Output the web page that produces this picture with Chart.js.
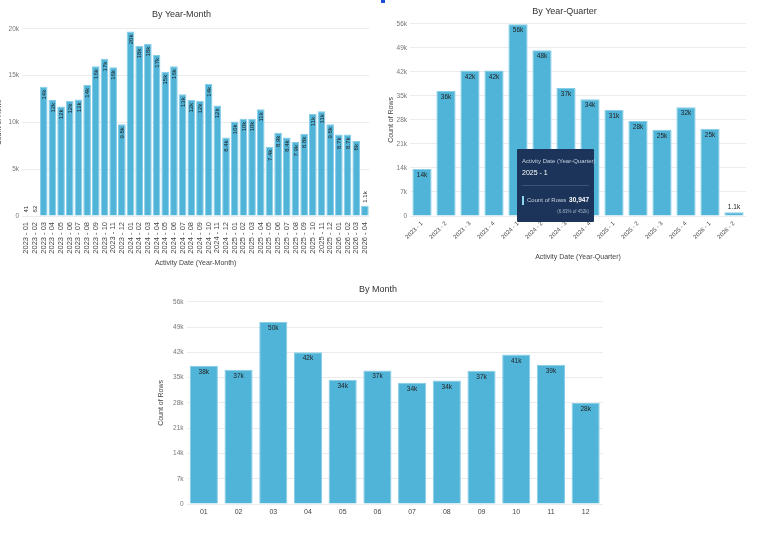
<!DOCTYPE html>
<html>
<head>
<meta charset="utf-8">
<script src="https://cdn.jsdelivr.net/npm/chart.js@4/dist/chart.umd.min.js"></script>
<style>
  html, body { margin:0; padding:0; background:#fff; width:764px; height:542px; overflow:hidden; font-family:"Liberation Sans", Arial, sans-serif; }
  .box { position:absolute; }
  #tip { position:absolute; left:517px; top:149px; width:77px; height:73px; background:#1c3459; border-radius:1px; color:#fff; font-family:"Liberation Sans", Arial, sans-serif; }
  #tip .t1 { position:absolute; left:5px; top:9px; font-size:6px; color:#c6d0de; white-space:nowrap; }
  #tip .t2 { position:absolute; left:5px; top:20px; font-size:7px; color:#ffffff; white-space:nowrap; }
  #tip .sep { position:absolute; left:5px; right:5px; top:36px; height:1px; background:#3a5378; }
  #tip .mk { position:absolute; left:5px; top:47px; width:1.5px; height:9px; background:#8ed6f0; }
  #tip .t3 { position:absolute; left:10px; top:48px; font-size:6px; color:#c6d0de; white-space:nowrap; }
  #tip .t4 { position:absolute; right:5px; top:47px; font-size:6.5px; color:#ffffff; font-weight:bold; white-space:nowrap; }
  #tip .t5 { position:absolute; right:5px; top:60px; font-size:4.5px; color:#9fb0c8; white-space:nowrap; }
  #blip { position:absolute; left:381px; top:0px; width:4px; height:3px; background:#1d4fd6; }
</style>
</head>
<body>
<div class="box" style="left:-9px; top:0px;"><canvas id="c1" width="389" height="271"></canvas></div>
<div class="box" style="left:383px; top:0px;"><canvas id="c2" width="381" height="265"></canvas></div>
<div class="box" style="left:153px; top:280px; width:450px; height:245px; overflow:hidden;"><canvas id="c3" width="450" height="256"></canvas></div>
<div id="blip"></div>
<div id="tip">
  <div class="t1">Activity Date (Year-Quarter)</div>
  <div class="t2">2025 - 1</div>
  <div class="sep"></div>
  <div class="mk"></div>
  <div class="t3">Count of Rows</div>
  <div class="t4">30,947</div>
  <div class="t5">(6.83% of 452k)</div>
</div>
<script>
// ---------- DATA ----------
const monthCategories = [
  "2023 - 01","2023 - 02","2023 - 03","2023 - 04","2023 - 05","2023 - 06","2023 - 07","2023 - 08","2023 - 09","2023 - 10","2023 - 11","2023 - 12",
  "2024 - 01","2024 - 02","2024 - 03","2024 - 04","2024 - 05","2024 - 06","2024 - 07","2024 - 08","2024 - 09","2024 - 10","2024 - 11","2024 - 12",
  "2025 - 01","2025 - 02","2025 - 03","2025 - 04","2025 - 05","2025 - 06","2025 - 07","2025 - 08","2025 - 09","2025 - 10","2025 - 11","2025 - 12",
  "2026 - 01","2026 - 02","2026 - 03","2026 - 04"
];
const monthValues = [
  41, 62, 13800, 12400, 11700, 12300, 12450, 14000, 16000, 16800, 15900, 9800,
  19700, 18200, 18400, 17200, 15400, 16000, 13000, 12400, 12300, 14100, 11800, 8400,
  10100, 10400, 10400, 11400, 7400, 8900, 8400, 7900, 8800, 10900, 11200, 9800,
  8700, 8700, 8000, 1100
];
const quarterCategories = ["2023 - 1","2023 - 2","2023 - 3","2023 - 4","2024 - 1","2024 - 2","2024 - 3","2024 - 4","2025 - 1","2025 - 2","2025 - 3","2025 - 4","2026 - 1","2026 - 2"];
const quarterValues = [13700, 36400, 42400, 42400, 55900, 48300, 37300, 34000, 30947, 27700, 25100, 31700, 25400, 1100];
const calMonthCategories = ["01","02","03","04","05","06","07","08","09","10","11","12"];
const calMonthValues = [38300, 37200, 50400, 42000, 34400, 37000, 33600, 34200, 36900, 41400, 38600, 28000];

const ymTicks = { min: 0, max: 20000, step: 5000 };
const qTicks = { min: 0, max: 56000, step: 7000 };

// ---------- HELPERS ----------
const FONT = '"Liberation Sans", Arial, sans-serif';
const NARROW = '"Liberation Sans Narrow", "Liberation Sans", Arial, sans-serif';
const BAR = '#50b4d8';
const BAR_EDGE = '#86cde8';

function fmtK(v) {
  if (v < 1000) return String(Math.round(v));
  const k = v / 1000;
  if (k < 10) { let s = k.toFixed(1); if (s.endsWith('.0')) s = s.slice(0, -2); return s + 'k'; }
  return Math.round(k) + 'k';
}
function tickK(v) { return v === 0 ? '0' : (v / 1000) + 'k'; }

const barLabels = {
  id: 'barLabels',
  afterDatasetsDraw(chart, args, opts) {
    const ctx = chart.ctx;
    const meta = chart.getDatasetMeta(0);
    const data = chart.data.datasets[0].data;
    ctx.save();
    ctx.font = opts.size + 'px ' + FONT;
    ctx.fillStyle = opts.color || '#222';
    meta.data.forEach((bar, i) => {
      const txt = fmtK(data[i]);
      const h = bar.base - bar.y;
      const w = ctx.measureText(txt).width;
      if (opts.rotate) {
        ctx.save();
        ctx.translate(bar.x, bar.y);
        ctx.rotate(-Math.PI / 2);
        ctx.textBaseline = 'middle';
        if (h > w + 6) { ctx.textAlign = 'right'; ctx.fillText(txt, -3, 0.5); }
        else { ctx.textAlign = 'left'; ctx.fillText(txt, 3, 0.5); }
        ctx.restore();
      } else {
        ctx.textAlign = 'center';
        if (h > opts.size + 8) { ctx.textBaseline = 'top'; ctx.fillText(txt, bar.x, bar.y + 3); }
        else { ctx.textBaseline = 'bottom'; ctx.fillText(txt, bar.x, bar.y - 2); }
      }
    });
    ctx.restore();
  }
};

function makeChart(id, cats, vals, cfg) {
  return new Chart(document.getElementById(id), {
    type: 'bar',
    data: {
      labels: cats,
      datasets: [{
        data: vals,
        backgroundColor: BAR,
        borderColor: BAR_EDGE,
        borderWidth: 1,
        categoryPercentage: 1,
        barPercentage: cfg.barPct
      }]
    },
    plugins: [barLabels],
    options: {
      responsive: false,
      animation: false,
      events: [],
      layout: { padding: { left: 0, right: cfg.padRight, top: 0, bottom: 0 } },
      plugins: {
        legend: { display: false },
        tooltip: { enabled: false },
        title: {
          display: true, text: cfg.title, color: '#333',
          font: { family: FONT, size: 9, weight: 'normal' },
          padding: cfg.titlePad
        },
        barLabels: cfg.labels
      },
      scales: {
        x: {
          grid: { display: false, drawTicks: false },
          border: { display: false },
          ticks: {
            autoSkip: false, color: '#444', padding: cfg.xTickPad,
            minRotation: cfg.rot, maxRotation: cfg.rot,
            font: { family: cfg.xTickFont || FONT, size: cfg.xTickSize }
          },
          title: {
            display: true, text: cfg.xTitle, color: '#444',
            font: { family: FONT, size: 7 }, padding: { top: 4, bottom: 4 }
          },
          afterFit(s) { s.height = cfg.xHeight; }
        },
        y: {
          min: cfg.y.min, max: cfg.y.max,
          grid: { color: '#ececec', lineWidth: 1, drawTicks: false },
          border: { display: false },
          ticks: {
            stepSize: cfg.y.step, color: '#777', padding: 3,
            font: { family: FONT, size: 6.5 },
            callback: tickK
          },
          title: {
            display: true, text: 'Count of Rows', color: '#444',
            font: { family: FONT, size: 7 }, padding: { top: 4, bottom: 4 }
          },
          afterFit(s) { s.width = cfg.yWidth; }
        }
      }
    }
  });
}

makeChart('c1', monthCategories, monthValues, {
  title: 'By Year-Month', titlePad: { top: 9, bottom: 9 },
  xTitle: 'Activity Date (Year-Month)', rot: 90, xTickSize: 7.5, xTickPad: 6, xTickFont: NARROW,
  xHeight: 55, yWidth: 31, padRight: 8, barPct: 0.88,
  y: ymTicks, labels: { size: 6, rotate: true, color: '#222' }
});

makeChart('c2', quarterCategories, quarterValues, {
  title: 'By Year-Quarter', titlePad: { top: 6, bottom: 7 },
  xTitle: 'Activity Date (Year-Quarter)', rot: 45, xTickSize: 6, xTickPad: 4,
  xHeight: 49, yWidth: 27, padRight: 18, barPct: 0.8,
  y: qTicks, labels: { size: 6.5, rotate: false, color: '#222' }
});

makeChart('c3', calMonthCategories, calMonthValues, {
  title: 'By Month', titlePad: { top: 4, bottom: 7 },
  xTitle: 'Activity Date (Month)', rot: 0, xTickSize: 7, xTickPad: 4,
  xHeight: 32, yWidth: 33.5, padRight: 0, barPct: 0.81,
  y: qTicks, labels: { size: 6.5, rotate: false, color: '#222' }
});
</script>
</body>
</html>
